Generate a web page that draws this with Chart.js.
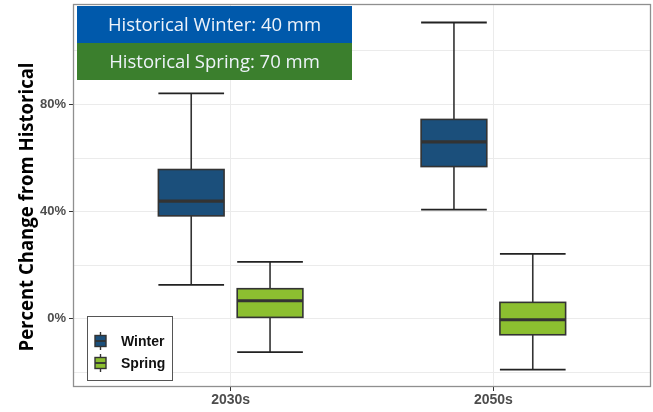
<!DOCTYPE html>
<html>
<head>
<meta charset="utf-8">
<script src="https://cdn.jsdelivr.net/npm/chart.js@4.4.1/dist/chart.umd.min.js"></script>
<style>
  html, body { margin: 0; padding: 0; background: #ffffff; }
  #wrap { position: relative; width: 653px; height: 412px; }
</style>
</head>
<body>
<div id="wrap"><canvas id="c" width="653" height="412"></canvas></div>
<script>
// Projected change in seasonal precipitation, percent from historical
const periods = ['2030s', '2050s'];
const seasons = ['Winter', 'Spring'];

// Five-number summaries per period: low whisker, Q1, median, Q3, high whisker
const winterLow    = [12.6, 40.7];
const winterQ1     = [38.4, 56.8];
const winterMedian = [43.9, 66.0];
const winterQ3     = [55.7, 74.4];
const winterHigh   = [84.1, 110.6];

const springLow    = [-12.5, -19.0];
const springQ1     = [0.5, -6.0];
const springMedian = [6.7, -0.4];
const springQ3     = [11.2, 6.1];
const springHigh   = [21.2, 24.2];

const yTicks = [-20, 0, 20, 40, 60, 80, 100];
const yLabelled = [0, 40, 80];

const yTitle = 'Percent Change from Historical';
const bannerLines = ['Historical Winter: 40 mm', 'Historical Spring: 70 mm'];

const seasonColors = ['#1b4f7b', '#8cbf30'];
const bannerColors = ['#0059ab', '#3b7f2d'];

const series = [
  { low: winterLow, q1: winterQ1, med: winterMedian, q3: winterQ3, high: winterHigh },
  { low: springLow, q1: springQ1, med: springMedian, q3: springQ3, high: springHigh }
];

const DODGE = 0.15;   // centre offset of each season within a period
const HALF_W = 0.125; // half box width in x units

const boxPlugin = {
  id: 'boxes',
  beforeDatasetsDraw(chart) {
    const { ctx, chartArea: a } = chart;
    // panel border
    ctx.save();
    ctx.strokeStyle = '#8f8f8f';
    ctx.lineWidth = 1.3;
    ctx.strokeRect(a.left + 0.5, a.top + 0.5, a.right - a.left - 1, a.bottom - a.top - 1);
    ctx.restore();
  },
  afterDatasetsDraw(chart) {
    const { ctx } = chart;
    const xs = chart.scales.x, ys = chart.scales.y;
    ctx.save();
    series.forEach((s, si) => {
      periods.forEach((p, pi) => {
        const xc = pi + 1 + (si === 0 ? -DODGE : DODGE);
        const xl = xs.getPixelForValue(xc - HALF_W);
        const xr = xs.getPixelForValue(xc + HALF_W);
        const xm = xs.getPixelForValue(xc);
        const yLow = ys.getPixelForValue(s.low[pi]);
        const yQ1 = ys.getPixelForValue(s.q1[pi]);
        const yMed = ys.getPixelForValue(s.med[pi]);
        const yQ3 = ys.getPixelForValue(s.q3[pi]);
        const yHigh = ys.getPixelForValue(s.high[pi]);
        // whiskers
        ctx.strokeStyle = '#333333';
        ctx.lineWidth = 1.6;
        ctx.beginPath();
        ctx.moveTo(xm, yQ3); ctx.lineTo(xm, yHigh);
        ctx.moveTo(xm, yQ1); ctx.lineTo(xm, yLow);
        ctx.stroke();
        // caps
        ctx.strokeStyle = '#222222';
        ctx.lineWidth = 1.8;
        ctx.beginPath();
        ctx.moveTo(xl, yHigh); ctx.lineTo(xr, yHigh);
        ctx.moveTo(xl, yLow); ctx.lineTo(xr, yLow);
        ctx.stroke();
        // box
        ctx.fillStyle = seasonColors[si];
        ctx.fillRect(xl, yQ3, xr - xl, yQ1 - yQ3);
        ctx.strokeStyle = '#333333';
        ctx.lineWidth = 1.6;
        ctx.strokeRect(xl, yQ3, xr - xl, yQ1 - yQ3);
        // median
        ctx.lineWidth = 3.2;
        ctx.beginPath();
        ctx.moveTo(xl, yMed); ctx.lineTo(xr, yMed);
        ctx.stroke();
      });
    });

    // banners with historical totals
    const bx = 77, bw = 275, bh = 37, by0 = 6;
    ctx.textAlign = 'center';
    ctx.textBaseline = 'middle';
    ctx.font = '18.5px "Open Sans"';
    bannerLines.forEach((t, i) => {
      const by = by0 + i * bh;
      ctx.fillStyle = bannerColors[i];
      ctx.fillRect(bx, by, bw, bh);
      ctx.fillStyle = '#eef3fa';
      ctx.fillText(t, bx + bw / 2, by + bh / 2 + 1);
    });

    // legend
    const lx = 87.5, ly = 316.5, lw = 85, lh = 64;
    ctx.fillStyle = '#ffffff';
    ctx.fillRect(lx, ly, lw, lh);
    ctx.strokeStyle = '#555555';
    ctx.lineWidth = 1;
    ctx.strokeRect(lx, ly, lw, lh);
    const keyY = [341, 363];
    ctx.textAlign = 'left';
    ctx.font = 'bold 14px "Liberation Sans", Arial, sans-serif';
    seasons.forEach((name, i) => {
      const cy = keyY[i];
      const kx = 95, kw = 11;
      ctx.strokeStyle = '#333333';
      ctx.lineWidth = 1.4;
      ctx.beginPath();
      ctx.moveTo(kx + kw / 2, cy - 9); ctx.lineTo(kx + kw / 2, cy + 9);
      ctx.stroke();
      ctx.fillStyle = seasonColors[i];
      ctx.fillRect(kx, cy - 5.5, kw, 11);
      ctx.strokeRect(kx, cy - 5.5, kw, 11);
      ctx.lineWidth = 1.8;
      ctx.beginPath();
      ctx.moveTo(kx, cy); ctx.lineTo(kx + kw, cy);
      ctx.stroke();
      ctx.fillStyle = '#111111';
      ctx.fillText(name, 121, cy + 1);
    });

    // y-axis title, fitted to a fixed length along the axis
    ctx.save();
    ctx.font = 'bold 20px "Open Sans", sans-serif';
    ctx.fillStyle = '#000000';
    ctx.textAlign = 'center';
    ctx.textBaseline = 'alphabetic';
    const tw = ctx.measureText(yTitle).width;
    ctx.translate(33, 207);
    ctx.rotate(-Math.PI / 2);
    ctx.scale(289 / tw, 1);
    ctx.fillText(yTitle, 0, 0);
    ctx.restore();

    ctx.restore();
  }
};

new Chart(document.getElementById('c'), {
  type: 'scatter',
  data: {
    datasets: series.map((s, si) => ({
      label: seasons[si],
      data: periods.map((p, pi) => ({ x: pi + 1 + (si === 0 ? -DODGE : DODGE), y: s.med[pi] })),
      pointRadius: 0,
      pointHoverRadius: 0,
      backgroundColor: seasonColors[si]
    }))
  },
  options: {
    responsive: false,
    animation: false,
    events: [],
    layout: { padding: { top: 4, right: 2, left: 0, bottom: 0 } },
    plugins: { legend: { display: false }, tooltip: { enabled: false } },
    scales: {
      x: {
        type: 'linear',
        min: 0.4,
        max: 2.6,
        afterBuildTicks(scale) { scale.ticks = periods.map((p, i) => ({ value: i + 1 })); },
        afterFit(scale) { scale.height = 25; scale.paddingLeft = 0; scale.paddingRight = 0; },
        ticks: {
          callback: (v) => periods[Math.round(v) - 1] || '',
          color: '#4d4d4d',
          font: { family: '"Liberation Sans", Arial, sans-serif', size: 14, weight: 'bold' },
          padding: 1,
          maxRotation: 0,
          autoSkip: false
        },
        grid: { color: '#ebebeb', lineWidth: 1, tickLength: 4, tickColor: '#333333' },
        border: { display: false }
      },
      y: {
        type: 'linear',
        min: -25.5,
        max: 117.5,
        afterBuildTicks(scale) { scale.ticks = yTicks.map(v => ({ value: v })); },
        afterFit(scale) { scale.width = 73; scale.paddingTop = 0; scale.paddingBottom = 0; },
        ticks: {
          callback: (v) => yLabelled.includes(v) ? v + '%' : '',
          color: '#4d4d4d',
          font: { family: '"Liberation Sans", Arial, sans-serif', size: 13, weight: 'bold' },
          padding: 3,
          autoSkip: false
        },
        grid: {
          color: '#ebebeb',
          lineWidth: 1,
          tickLength: 4,
          tickColor: (c) => (c.tick && yLabelled.includes(c.tick.value)) ? '#333333' : 'rgba(0,0,0,0)'
        },
        border: { display: false },
        title: { display: false }
      }
    }
  },
  plugins: [boxPlugin]
});
</script>
</body>
</html>
